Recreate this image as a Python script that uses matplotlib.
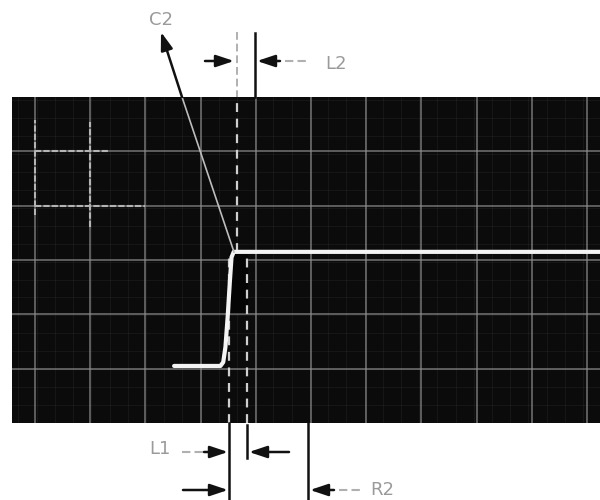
import numpy as np
import matplotlib.pyplot as plt
from matplotlib.patches import Rectangle

# scope screen, in divisions
trace_x = [2.52, 3.36, 3.41, 3.45, 3.49, 3.53, 3.56, 3.60, 10.4]
trace_y = [1.05, 1.05, 1.12, 1.4, 1.95, 2.6, 3.05, 3.15, 3.15]
grid_x = list(range(0, 11))
grid_y = list(range(1, 6))
cursor_upper = 3.66       # C2 dashed cursor, above the step
cursor_lower = [3.51, 3.84]  # dashed cursors below the step

# labels (figure pixels)
labels = ['C2', 'L2', 'L1', 'R2']
label_x = [161, 336, 160, 382]
label_y = [20, 64, 449, 490]

fig = plt.figure(figsize=(6, 5), dpi=100)
fig.patch.set_facecolor('white')

scr = fig.add_axes([12 / 600, 1 - 423 / 500, 588 / 600, 326 / 500])
scr.set_facecolor('#0b0b0b')
scr.set_xlim(-0.417, 10.236)
scr.set_ylim(0, 6)
for s in scr.spines.values():
    s.set_visible(False)
scr.set_xticks([])
scr.set_yticks([])

gc = '#8e8e8e'
for gx in grid_x:
    scr.axvline(gx, color=gc, lw=1.1, alpha=0.8)
for gy in grid_y:
    scr.axhline(gy, color=gc, lw=1.1, alpha=0.8)
# faint fine lines
for gx in np.arange(-0.3, 10.2, 0.33):
    scr.axvline(gx, color=gc, lw=0.6, alpha=0.1)
for gy in np.arange(0.33, 6, 0.33):
    scr.axhline(gy, color=gc, lw=0.6, alpha=0.1)

# brighter reference marks in the top-left corner
bc = '#b4b4b4'
scr.plot([0, 1.32], [5, 5], color=bc, lw=1.5, dashes=(3, 1))
scr.plot([0, 2.0], [4, 4], color=bc, lw=1.5, dashes=(3, 1))
scr.plot([0, 0], [3.83, 5.58], color=bc, lw=1.5, dashes=(3, 1))
scr.plot([1, 1], [3.6, 5.54], color=bc, lw=1.5, dashes=(3, 1))

# blanked area between lower cursors
scr.add_patch(Rectangle((cursor_lower[0], 2.04), cursor_lower[1] - cursor_lower[0], 1.08,
                        color='#050505', zorder=3))

cc = '#cfcfcf'
scr.plot([cursor_upper, cursor_upper], [3.15, 6], color=cc, lw=1.6, dashes=(4, 3), zorder=4)
for cx in cursor_lower:
    scr.plot([cx, cx], [0, 3.1], color=cc, lw=1.6, dashes=(4, 3), zorder=4)

scr.plot(trace_x, trace_y, color='#f4f4f4', lw=3, solid_capstyle='round', zorder=5)

# annotation layer in pixels
ax = fig.add_axes([0, 0, 1, 1], facecolor='none')
ax.set_xlim(0, 600)
ax.set_ylim(500, 0)
ax.axis('off')

tc = '#9a9a9a'
for t, x, y in zip(labels, label_x, label_y):
    ax.text(x, y, t, color=tc, fontsize=13, ha='center', va='center')

arr = dict(arrowstyle='-|>,head_length=0.6,head_width=0.2', color='#111111',
           lw=1.8, mutation_scale=18, shrinkA=0, shrinkB=0)

# C2 pointer
ax.plot([234, 182], [252, 97], color='#bdbdbd', lw=1.2)
ax.annotate('', xy=(161, 32), xytext=(182, 97), arrowprops=arr)

# L2 markers
ax.plot([237, 237], [32, 97], color='#b0b0b0', lw=1.4, dashes=(4, 2))
ax.plot([255, 255], [33, 97], color='#111111', lw=1.8)
ax.annotate('', xy=(234, 61), xytext=(205, 61), arrowprops=arr)
ax.annotate('', xy=(257, 61), xytext=(280, 61), arrowprops=arr)
ax.plot([285, 307], [61, 61], color='#b0b0b0', lw=1.5, dashes=(4, 2))

# lower markers
ax.plot([229, 229], [423, 500], color='#111111', lw=1.8)
ax.plot([247, 247], [425, 458], color='#111111', lw=1.8)
ax.plot([308, 308], [423, 500], color='#111111', lw=1.8)
ax.plot([182, 203], [452, 452], color='#b0b0b0', lw=1.5, dashes=(4, 2))
ax.annotate('', xy=(228, 452), xytext=(204, 452), arrowprops=arr)
ax.annotate('', xy=(249, 452), xytext=(289, 452), arrowprops=arr)
ax.annotate('', xy=(228, 490), xytext=(183, 490), arrowprops=arr)
ax.annotate('', xy=(310, 490), xytext=(334, 490), arrowprops=arr)
ax.plot([339, 360], [490, 490], color='#b0b0b0', lw=1.5, dashes=(4, 2))

fig.savefig('out.png', dpi=100, facecolor='white')
